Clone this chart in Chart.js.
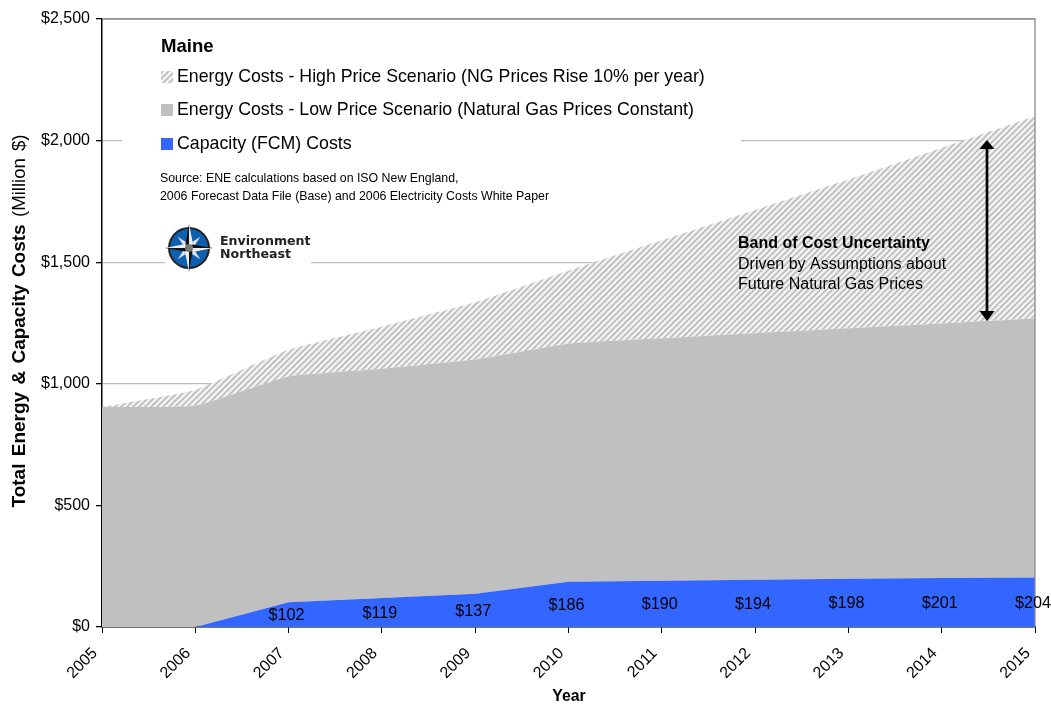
<!DOCTYPE html>
<html><head><meta charset="utf-8">
<style>html,body{margin:0;padding:0;background:#fff}canvas{display:block}</style>
<script src="https://cdn.jsdelivr.net/npm/chart.js@4"></script></head>
<body><canvas id="c" width="1051" height="704"></canvas>
<script>
const years=['2005','2006','2007','2008','2009','2010','2011','2012','2013','2014','2015'];
const capacityCosts=[0,0,102,119,137,186,190,194,198,201,204];
const lowPriceEnergy=[905,910,928,943,963,979,997,1014,1030,1047,1064];
const highPriceExtra=[0,65,110,173,235,300,403,507,612,722,832];
const yTicks=[0,500,1000,1500,2000,2500];
const legendLabels=['Energy Costs - High Price Scenario (NG Prices Rise 10% per year)','Energy Costs - Low Price Scenario (Natural Gas Prices Constant)','Capacity (FCM) Costs'];
const FONT='"Liberation Sans", Arial, sans-serif';

function hatch(){
  const p=6,t=document.createElement('canvas');t.width=p;t.height=p;
  const g=t.getContext('2d');g.fillStyle='#f6f6f6';g.fillRect(0,0,p,p);
  g.strokeStyle='#c2c2c2';g.lineWidth=2;
  for(const o of [-p,0,p]){g.beginPath();g.moveTo(o-1,p+1);g.lineTo(o+p+1,-1);g.stroke();}
  return g.createPattern(t,'repeat');
}
const hatchFill=hatch();

const overlay={
  id:'overlay',
  beforeDatasetsDraw(ch){
    const c=ch.ctx;c.save();c.fillStyle='#fff';
    c.fillRect(122,25,619,198);
    c.fillRect(165,223,146,44);
    c.restore();
  },
  afterDraw(ch){
    const c=ch.ctx,xs=ch.scales.x,ys=ch.scales.y,a=ch.chartArea;c.save();
    c.strokeStyle='#8c8c8c';c.lineWidth=1.3;c.beginPath();c.moveTo(a.left,a.top);c.lineTo(a.right,a.top);c.lineTo(a.right,a.bottom);c.stroke();
    c.textBaseline='middle';c.fillStyle='#000';
    // data labels
    c.font='16.2px '+FONT;c.textAlign='center';
    capacityCosts.forEach((v,i)=>{ if(!v) return;
      c.fillText('$'+v,xs.getPixelForValue(i)-2,ys.getPixelForValue(v/2)+1);});
    // legend
    c.textAlign='left';
    c.font='bold 18.6px '+FONT;c.fillText('Maine',161,47);
    c.font='17.75px '+FONT;
    const ly=[77,110.5,144];
    legendLabels.forEach((t,i)=>c.fillText(t,177,ly[i]));
    c.fillStyle=hatchFill;c.fillRect(161,71,12,12);
    c.fillStyle='#C0C0C0';c.fillRect(161,104,12,12);
    c.fillStyle='#3366FF';c.fillRect(161,138,12,12);
    c.fillStyle='#000';c.font='12.35px '+FONT;
    c.fillText('Source: ENE calculations based on ISO New England,',160,179);
    c.fillText('2006 Forecast Data File (Base) and 2006 Electricity Costs White Paper',160,197);
    // logo
    const cx=189,cy=248;
    c.beginPath();c.arc(cx,cy,21,0,7);c.fillStyle='#222';c.fill();
    c.beginPath();c.arc(cx,cy,19,0,7);c.fillStyle='#0F5FB0';c.fill();
    const star=(r,r2,rot,col)=>{c.beginPath();for(let i=0;i<8;i++){const an=rot+i*Math.PI/4,q=i%2?r2:r;c.lineTo(cx+q*Math.sin(an),cy-q*Math.cos(an));}c.closePath();c.fillStyle=col;c.fill();};
    star(16,4,Math.PI/4,'#DDE3EA');
    star(24,5,0,'#111');
    c.fillStyle='#EEE';
    c.beginPath();c.moveTo(cx,cy-24);c.lineTo(cx+4,cy-4);c.lineTo(cx,cy);c.closePath();c.fill();
    c.beginPath();c.moveTo(cx,cy+24);c.lineTo(cx-4,cy+4);c.lineTo(cx,cy);c.closePath();c.fill();
    c.beginPath();c.moveTo(cx+24,cy);c.lineTo(cx+4,cy+4);c.lineTo(cx,cy);c.closePath();c.fill();
    c.beginPath();c.moveTo(cx-24,cy);c.lineTo(cx-4,cy-4);c.lineTo(cx,cy);c.closePath();c.fill();
    c.beginPath();c.arc(cx,cy,4,0,7);c.fillStyle='#777';c.fill();
    c.fillStyle='#222';c.font='bold 12.6px "DejaVu Sans", sans-serif';
    c.fillText('Environment',220,242);c.fillText('Northeast',220,255);
    // annotation
    c.fillStyle='#000';c.font='bold 16px '+FONT;c.fillText('Band of Cost Uncertainty',738,244);
    c.font='16px '+FONT;c.fillText('Driven by Assumptions about',738,265);c.fillText('Future Natural Gas Prices',738,285);
    // arrow
    c.strokeStyle='#000';c.lineWidth=2.7;c.beginPath();c.moveTo(987,148);c.lineTo(987,314);c.stroke();
    c.beginPath();c.moveTo(987,140);c.lineTo(994.5,149);c.lineTo(979.5,149);c.closePath();c.fill();
    c.beginPath();c.moveTo(987,321);c.lineTo(994.5,311);c.lineTo(979.5,311);c.closePath();c.fill();
    // y title mixed weight
    c.save();c.translate(20,321);c.rotate(-Math.PI/2);c.textAlign='left';c.wordSpacing='2px';
    const b='Total Energy & Capacity Costs ',n='(Million $)';
    c.font='bold 19px '+FONT;const wb=c.measureText(b).width;
    c.font='18.6px '+FONT;const wn=c.measureText(n).width;
    const x0=-(wb+wn)/2;
    c.font='bold 19px '+FONT;c.fillText(b,x0,0);
    c.font='18.6px '+FONT;c.fillText(n,x0+wb,0);
    c.restore();
    // x title
    c.textAlign='center';c.font='bold 15.8px '+FONT;c.fillText('Year',569,697);
    c.restore();
  }
};

new Chart(document.getElementById('c'),{
  type:'line',
  data:{labels:years,datasets:[
    {label:legendLabels[2],data:capacityCosts,backgroundColor:'#3366FF',borderWidth:0,fill:'origin',tension:0,pointRadius:0},
    {label:legendLabels[1],data:lowPriceEnergy,backgroundColor:'#C0C0C0',borderWidth:0,fill:'-1',tension:0.12,pointRadius:0},
    {label:legendLabels[0],data:highPriceExtra,backgroundColor:hatchFill,borderWidth:0,fill:'-1',tension:0.12,pointRadius:0}
  ]},
  plugins:[overlay],
  options:{
    responsive:false,animation:false,
    layout:{padding:{top:19,right:16,left:0,bottom:0}},
    plugins:{legend:{display:false},tooltip:{enabled:false},title:{display:false},filler:{drawTime:'beforeDatasetDraw'}},
    scales:{
      x:{offset:false,stacked:true,
        grid:{display:true,drawOnChartArea:false,drawTicks:true,tickLength:6,tickColor:'#000'},
        border:{display:true,color:'#000',width:1.5},
        ticks:{font:{family:FONT,size:16},color:'#000',minRotation:45,maxRotation:45,padding:11,labelOffset:-7,autoSkip:false},
        afterFit(s){s.height=77;s.paddingLeft=0;s.paddingRight=0;}},
      y:{stacked:true,min:0,max:2500,
        afterBuildTicks(s){s.ticks=yTicks.map(v=>({value:v}));},
        grid:{color:'#BDBDBD',lineWidth:1.3,tickColor:'#000',tickLength:6},
        border:{display:true,color:'#000',width:1.5},
        ticks:{font:{family:FONT,size:16},color:'#000',padding:6,callback:v=>'$'+v.toLocaleString('en-US')},
        afterFit(s){s.width=102;s.paddingTop=0;s.paddingBottom=0;}}
    }
  }
});
</script></body></html>
